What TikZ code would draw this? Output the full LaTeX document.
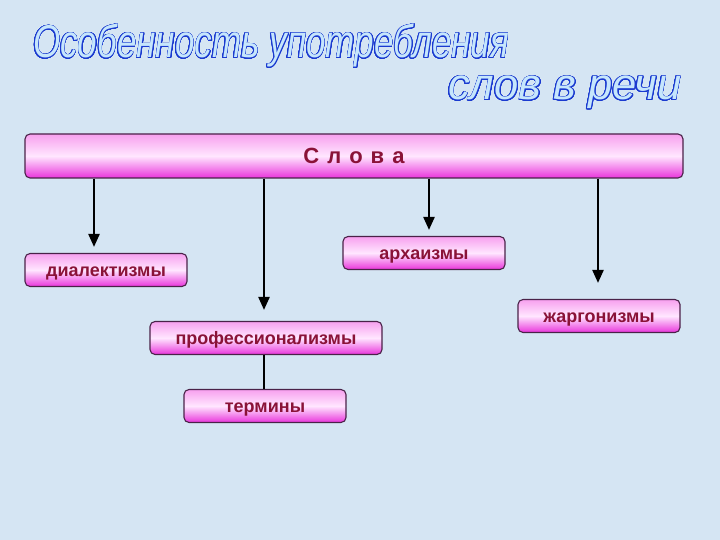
\documentclass[tikz,border=0pt]{standalone}
\usepackage{fontspec}
\setmainfont{Liberation Sans}
\usepackage[copies]{contour}
\contourlength{0.7pt}
\contournumber{32}
\usetikzlibrary{arrows.meta,calc}
\definecolor{bg}{HTML}{D5E5F3}
\definecolor{tblue}{HTML}{1A3AD0}
\definecolor{tfill}{HTML}{C6E6FC}
\definecolor{ptop}{HTML}{F7A0EE}
\definecolor{pmid}{HTML}{FFE6FF}
\definecolor{pbot}{HTML}{E934DB}
\definecolor{bord}{HTML}{4A2248}
\definecolor{dred}{HTML}{8A1238}
\newfontfamily\titlefont{Liberation Sans Italic}
\tikzset{
  box/.style={draw=bord, line width=1.1pt, rounded corners=5pt,
    top color=ptop, bottom color=pbot, middle color=pmid,
    text=dred, font=\bfseries\fontsize{18}{18}\selectfont, inner sep=0pt,
    text height=12pt, text depth=0pt},
  smallbox/.style={box, minimum width=162pt, minimum height=33pt},
  arr/.style={line width=2.3pt, black, -{Triangle[width=11pt,length=13pt]}},
  link/.style={line width=2.3pt, black},
  ttl/.style={anchor=base west, inner sep=0pt}
}
\begin{document}
\begin{tikzpicture}[x=1pt,y=-1pt]
\fill[bg] (0,0) rectangle (720,540);
\useasboundingbox (0,0) rectangle (720,540);

\node[ttl] (t1) at (33,58) {\resizebox{476pt}{\height}{\titlefont\fontsize{46}{46}\selectfont\contour{tblue}{\color{tfill}Особенность употребления}}};
\node[ttl] (t2) at (448,100) {\resizebox{233pt}{\height}{\titlefont\fontsize{44}{44}\selectfont\contour{tblue}{\color{tfill}слов в речи}}};

\node[box, minimum width=658pt, minimum height=44pt, font=\bfseries\fontsize{22}{22}\selectfont, text height=16pt, text depth=1pt] (slova) at (354,156)
  {С\hspace{8pt}л\hspace{8pt}о\hspace{8pt}в\hspace{8pt}а};

\node[smallbox] (dial) at (106,270) {диалектизмы};
\node[smallbox] (arch) at (424,253) {архаизмы};
\node[smallbox, minimum width=232pt] (prof) at (266,338) {профессионализмы};
\node[smallbox] (term) at (265,406) {термины};
\node[smallbox] (jarg) at (599,316) {жаргонизмы};

\draw[arr] (slova.south -| 94,0) -- ($(dial.north -| 94,0)+(0,-6)$);
\draw[arr] (slova.south -| 264,0) -- ($(prof.north -| 264,0)+(0,-11)$);
\draw[arr] (slova.south -| 429,0) -- ($(arch.north -| 429,0)+(0,-6)$);
\draw[arr] (slova.south -| 598,0) -- ($(jarg.north -| 598,0)+(0,-16)$);
\draw[link] (prof.south -| 264,0) -- (term.north -| 264,0);
\end{tikzpicture}
\end{document}
